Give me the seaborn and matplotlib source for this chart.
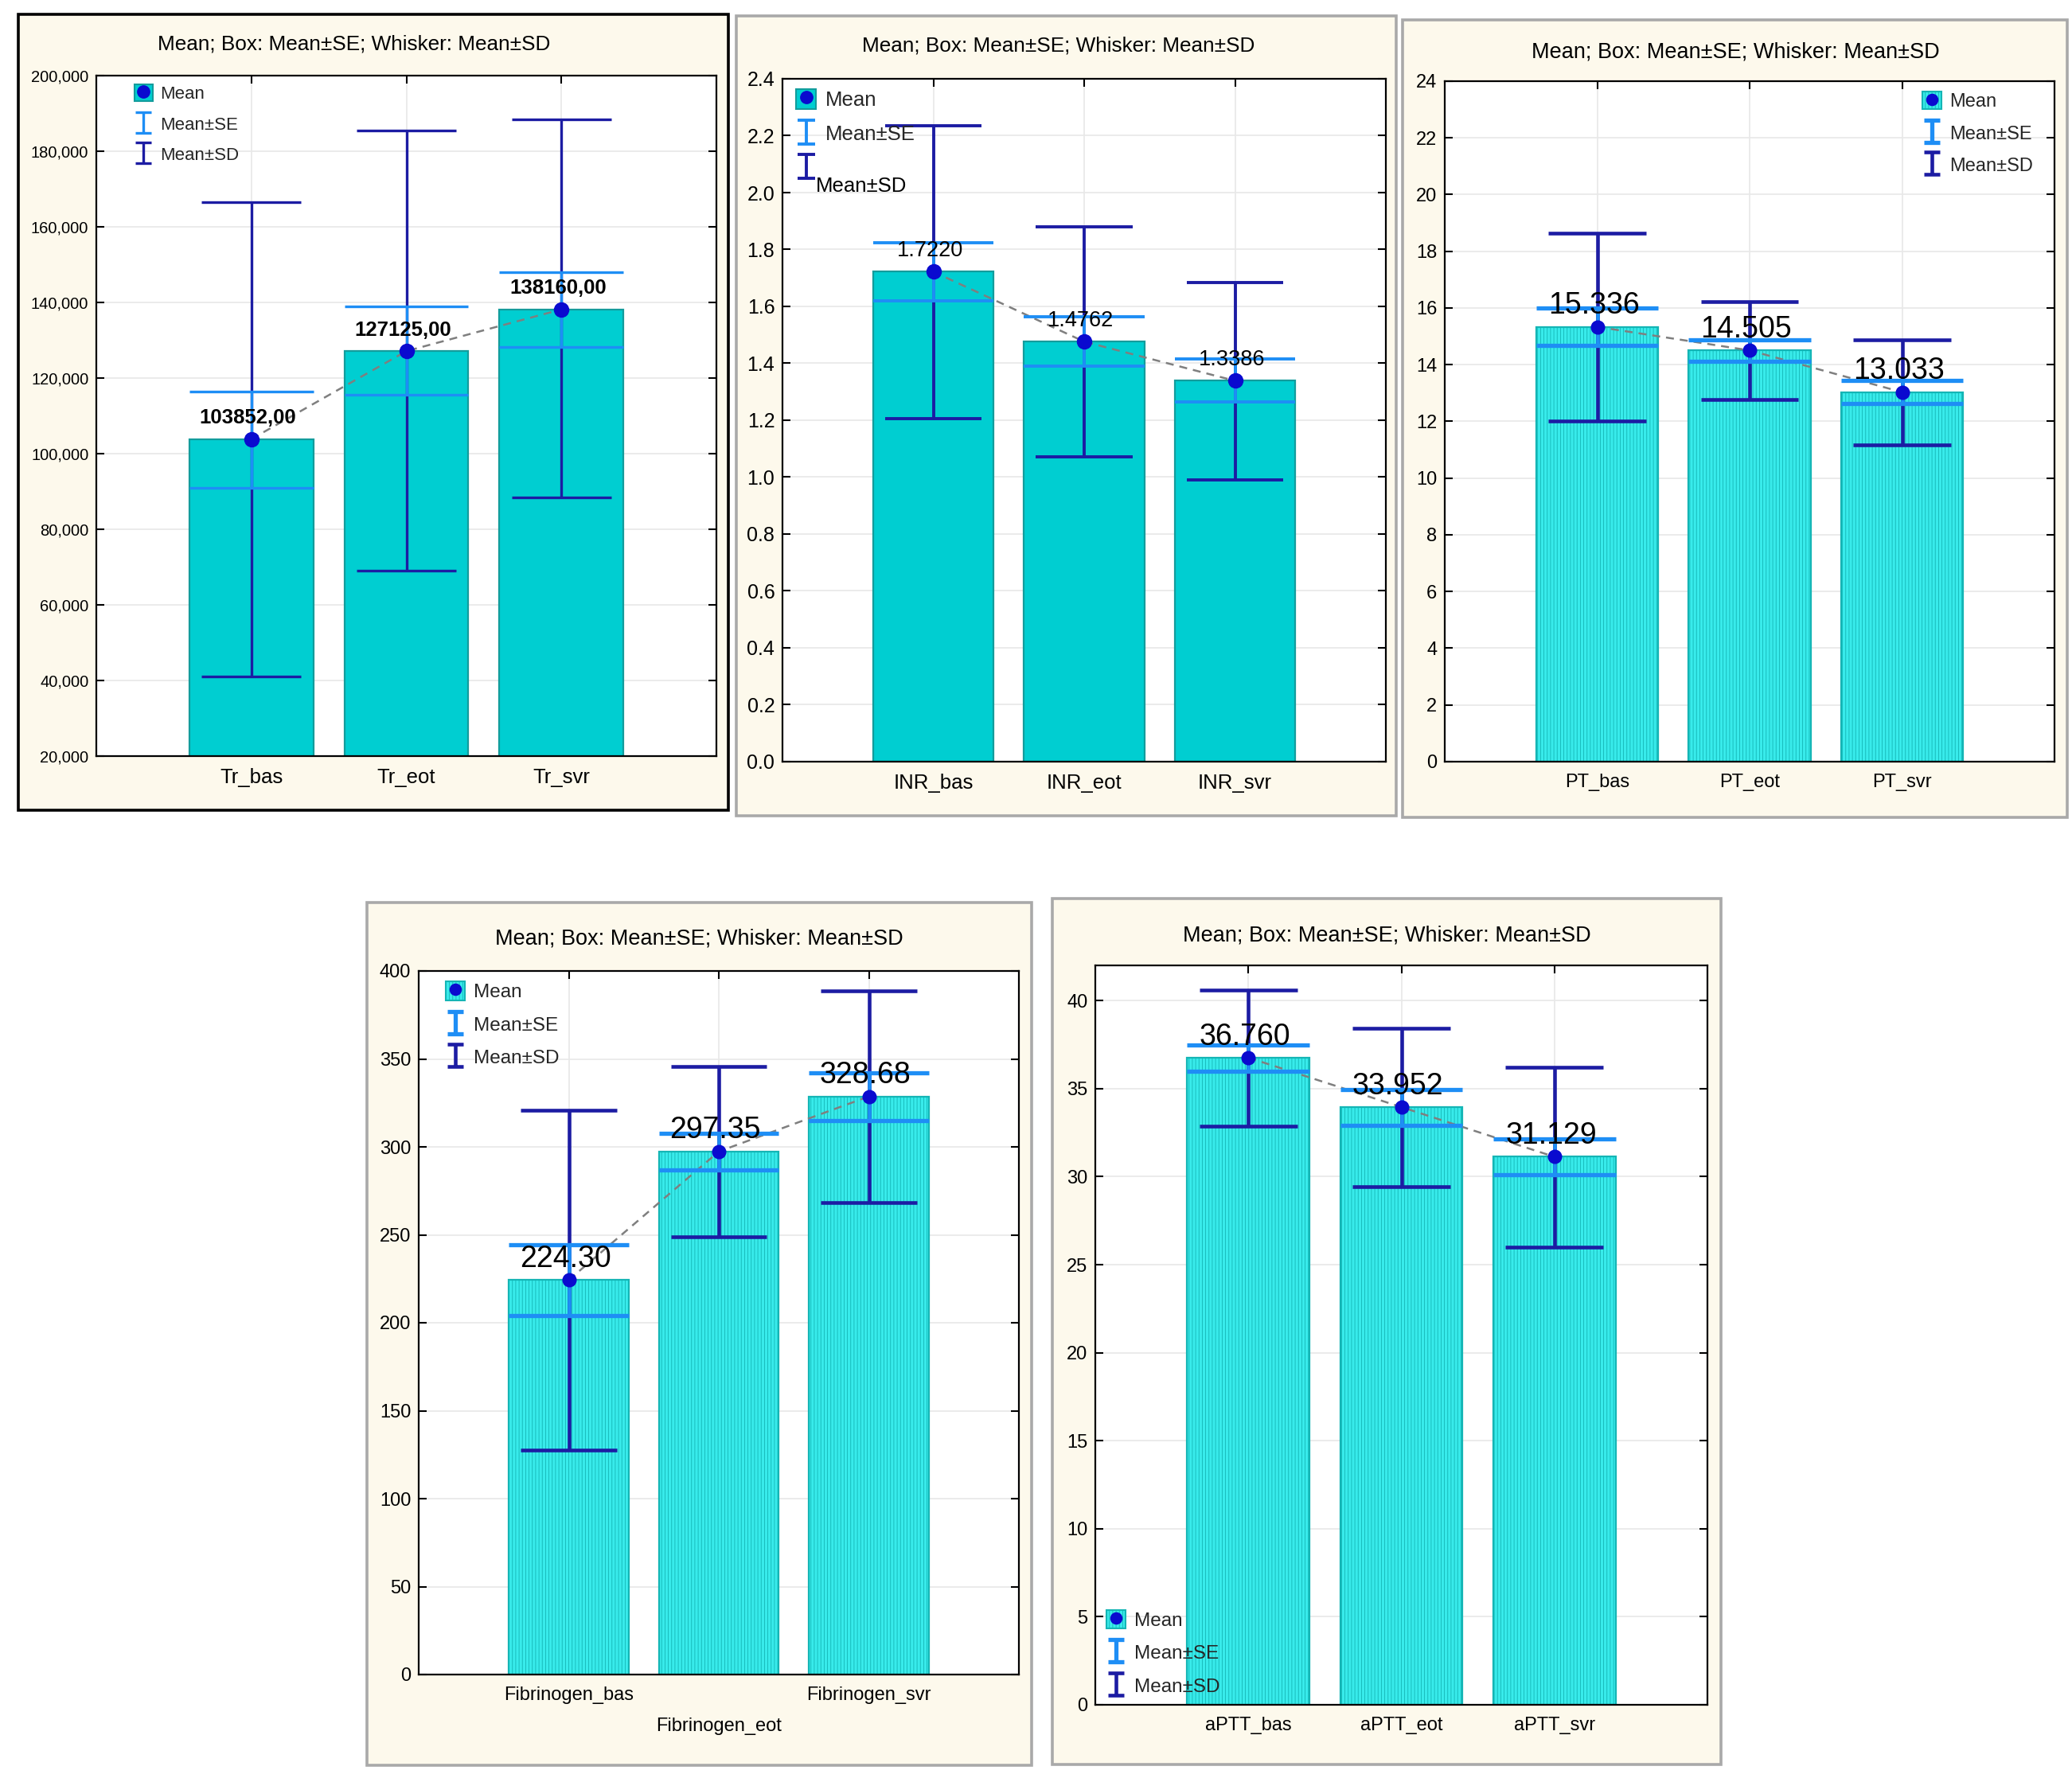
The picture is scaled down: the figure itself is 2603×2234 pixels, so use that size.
import numpy as np
import pandas as pd
import matplotlib
matplotlib.use("Agg")
import matplotlib.pyplot as plt
import seaborn as sns
from matplotlib.patches import Rectangle
from matplotlib.lines import Line2D
from matplotlib.path import Path
from matplotlib.legend_handler import HandlerTuple
from matplotlib.ticker import FuncFormatter, MultipleLocator

# ---------------- data ----------------
chart_title = "Mean; Box: Mean±SE; Whisker: Mean±SD"
legend_labels = ["Mean", "Mean±SE", "Mean±SD"]

tr_cats = ["Tr_bas", "Tr_eot", "Tr_svr"]
tr_mean = [103852.00, 127125.00, 138160.00]
tr_se_lo = [91000, 115500, 128300]
tr_se_hi = [116500, 139000, 148000]
tr_sd_lo = [41000, 69000, 88500]
tr_sd_hi = [166500, 185500, 188500]

inr_cats = ["INR_bas", "INR_eot", "INR_svr"]
inr_mean = [1.7220, 1.4762, 1.3386]
inr_se_lo = [1.620, 1.390, 1.265]
inr_se_hi = [1.825, 1.565, 1.415]
inr_sd_lo = [1.205, 1.070, 0.990]
inr_sd_hi = [2.235, 1.880, 1.685]

pt_cats = ["PT_bas", "PT_eot", "PT_svr"]
pt_mean = [15.336, 14.505, 13.033]
pt_se_lo = [14.67, 14.12, 12.62]
pt_se_hi = [16.00, 14.89, 13.45]
pt_sd_lo = [12.02, 12.78, 11.18]
pt_sd_hi = [18.65, 16.22, 14.88]

fib_cats = ["Fibrinogen_bas", "Fibrinogen_eot", "Fibrinogen_svr"]
fib_mean = [224.30, 297.35, 328.68]
fib_se_lo = [204.0, 287.0, 315.0]
fib_se_hi = [244.5, 307.5, 342.0]
fib_sd_lo = [127.5, 249.0, 268.5]
fib_sd_hi = [321.0, 345.5, 388.5]

aptt_cats = ["aPTT_bas", "aPTT_eot", "aPTT_svr"]
aptt_mean = [36.760, 33.952, 31.129]
aptt_se_lo = [36.00, 32.90, 30.10]
aptt_se_hi = [37.50, 34.95, 32.15]
aptt_sd_lo = [32.85, 29.45, 26.00]
aptt_sd_hi = [40.60, 38.45, 36.20]

# ---------------- style ----------------
sns.set_style("ticks")
plt.rcParams["font.family"] = ["Liberation Sans", "DejaVu Sans"]
plt.rcParams["hatch.linewidth"] = 0.6

W, H = 2603, 2234
fig = plt.figure(figsize=(W / 100, H / 100), dpi=100)
fig.patch.set_facecolor("white")

CREAM = "#FDF9EC"
MEAN_C = "#0A0ACF"
SE_C = "#1E8EF5"
SD_C = "#1C1CA3"


def fr(l, t, r, b):
    return [l / W, 1 - b / H, (r - l) / W, (b - t) / H]


I_PATH = Path([(-0.75, 1), (0.75, 1), (0, 1), (0, -1), (-0.75, -1), (0.75, -1)],
              [Path.MOVETO, Path.LINETO, Path.MOVETO, Path.LINETO, Path.MOVETO, Path.LINETO])

panels = [
    dict(cats=tr_cats, mean=tr_mean, se_lo=tr_se_lo, se_hi=tr_se_hi, sd_lo=tr_sd_lo, sd_hi=tr_sd_hi,
         border=(23, 18, 915, 1018), border_c="black", axes=(121, 95, 900, 950), title_xy=(445, 56),
         title_fs=18.8, ylim=(20000, 200000), ystep=20000, yfmt=lambda v: f"{v:,.0f}",
         lab=lambda v: f"{v:.2f}".replace(".", ","), lab_fs=18.5, lab_bold=True,
         face="#00CED1", edge="#139C9C", hatch=None, lw_sd=2.4, lw_se=2.4, ms=13,
         ytick_fs=14.5, xtick_fs=18.5, leg_fs=16, leg_loc=("upper left", (0.062, 0.987)),
         split_sd=False),
    dict(cats=inr_cats, mean=inr_mean, se_lo=inr_se_lo, se_hi=inr_se_hi, sd_lo=inr_sd_lo, sd_hi=inr_sd_hi,
         border=(925, 20, 1754, 1025), border_c="#A9A9A9", axes=(983, 99, 1741, 957), title_xy=(1330, 57),
         title_fs=18.8, ylim=(0, 2.4), ystep=0.2, yfmt=lambda v: f"{v:.1f}",
         lab=lambda v: f"{v:.4f}", lab_fs=19.5, lab_bold=False,
         face="#00CED1", edge="#139C9C", hatch=None, lw_sd=2.8, lw_se=2.8, ms=13,
         ytick_fs=18, xtick_fs=18.5, leg_fs=18.5, leg_loc=("upper left", (0.022, 0.985)),
         split_sd=True),
    dict(cats=pt_cats, mean=pt_mean, se_lo=pt_se_lo, se_hi=pt_se_hi, sd_lo=pt_sd_lo, sd_hi=pt_sd_hi,
         border=(1762, 25, 2597, 1027), border_c="#A9A9A9", axes=(1815, 102, 2581, 957), title_xy=(2180, 66),
         title_fs=19.5, ylim=(0, 24), ystep=2, yfmt=lambda v: f"{v:.0f}",
         lab=lambda v: f"{v:.3f}", lab_fs=27, lab_bold=False,
         face="#38EBEB", edge="#14B5B5", hatch="||||", lw_sd=3.3, lw_se=3.8, ms=12,
         ytick_fs=17, xtick_fs=17, leg_fs=17, leg_loc=("upper right", (0.965, 0.985)),
         split_sd=False),
    dict(cats=fib_cats, mean=fib_mean, se_lo=fib_se_lo, se_hi=fib_se_hi, sd_lo=fib_sd_lo, sd_hi=fib_sd_hi,
         border=(461, 1134, 1296, 2218), border_c="#A9A9A9", axes=(526, 1220, 1280, 2104), title_xy=(878, 1179),
         title_fs=19.5, ylim=(0, 400), ystep=50, yfmt=lambda v: f"{v:.0f}",
         lab=lambda v: f"{v:.2f}", lab_fs=27, lab_bold=False,
         face="#38EBEB", edge="#14B5B5", hatch="||||", lw_sd=3.3, lw_se=3.8, ms=12,
         ytick_fs=17, xtick_fs=17, leg_fs=17.5, leg_loc=("upper left", (0.045, 0.985)),
         split_sd=False),
    dict(cats=aptt_cats, mean=aptt_mean, se_lo=aptt_se_lo, se_hi=aptt_se_hi, sd_lo=aptt_sd_lo, sd_hi=aptt_sd_hi,
         border=(1322, 1129, 2162, 2217), border_c="#A9A9A9", axes=(1376, 1213, 2145, 2142), title_xy=(1742, 1175),
         title_fs=19.5, ylim=(0, 42), ystep=5, yfmt=lambda v: f"{v:.0f}",
         lab=lambda v: f"{v:.3f}", lab_fs=27, lab_bold=False,
         face="#38EBEB", edge="#14B5B5", hatch="||||", lw_sd=3.3, lw_se=3.8, ms=12,
         ytick_fs=17, xtick_fs=17, leg_fs=17.5, leg_loc=("lower left", (0.018, 0.012)),
         split_sd=False),
]

for p in panels:
    # panel background with border (drawn beneath the axes)
    l, t, r, b = p["border"]
    fig.patches.append(Rectangle((l / W, 1 - b / H), (r - l) / W, (b - t) / H,
                                 transform=fig.transFigure, facecolor=CREAM,
                                 edgecolor=p["border_c"], linewidth=2.6, zorder=-5))
    fig.text(p["title_xy"][0] / W, 1 - p["title_xy"][1] / H, chart_title,
             ha="center", va="center", fontsize=p["title_fs"], color="black")

    ax = fig.add_axes(fr(*p["axes"]))
    ax.set_zorder(1)
    ax.set_facecolor("white")
    ax.set_axisbelow(True)

    cats = p["cats"]
    mean = np.asarray(p["mean"], dtype=float)
    x = np.arange(len(cats))
    df = pd.DataFrame({"cat": cats, "mean": mean})

    bar_kw = dict(edgecolor=p["edge"], linewidth=1.6)
    if p["hatch"]:
        bar_kw["hatch"] = p["hatch"]
    sns.barplot(data=df, x="cat", y="mean", ax=ax, color=p["face"], saturation=1,
                width=0.8, errorbar=None, zorder=2, **bar_kw)

    # dashed line connecting means
    ax.plot(x, mean, linestyle=(0, (4, 3)), color="#7F7F7F", lw=1.8, zorder=3)

    # SD whiskers
    ax.vlines(x, p["sd_lo"], p["sd_hi"], color=SD_C, lw=p["lw_sd"], zorder=4)
    ax.hlines(p["sd_lo"], x - 0.32, x + 0.32, color=SD_C, lw=p["lw_sd"], zorder=4)
    ax.hlines(p["sd_hi"], x - 0.32, x + 0.32, color=SD_C, lw=p["lw_sd"], zorder=4)
    # SE boxes
    ax.vlines(x, p["se_lo"], p["se_hi"], color=SE_C, lw=p["lw_sd"], zorder=5)
    ax.hlines(p["se_lo"], x - 0.4, x + 0.4, color=SE_C, lw=p["lw_se"], zorder=5)
    ax.hlines(p["se_hi"], x - 0.4, x + 0.4, color=SE_C, lw=p["lw_se"], zorder=5)
    # means
    ax.plot(x, mean, linestyle="none", marker="o", color=MEAN_C, markersize=p["ms"], zorder=6)

    for xi, m in zip(x, mean):
        ax.annotate(p["lab"](m), (xi, m), xytext=(-3, 19), textcoords="offset points",
                    ha="center", va="center", fontsize=p["lab_fs"],
                    fontweight="bold" if p["lab_bold"] else "normal", color="black", zorder=7)

    ax.set_xlim(-1, len(cats))
    ax.set_ylim(*p["ylim"])
    ax.yaxis.set_major_locator(MultipleLocator(p["ystep"]))
    ax.yaxis.set_major_formatter(FuncFormatter(lambda v, pos, f=p["yfmt"]: f(v)))
    ax.set_xticks(x)
    ax.set_xlabel("")
    ax.set_ylabel("")
    ax.grid(True, color="#E8E8E8", lw=1.2)
    ax.tick_params(axis="both", direction="in", length=7, width=1.5, top=True, right=True, colors="black")
    ax.tick_params(axis="y", labelsize=p["ytick_fs"], pad=7)
    ax.tick_params(axis="x", labelsize=p["xtick_fs"], pad=11)
    for s in ax.spines.values():
        s.set_visible(True)
        s.set_color("black")
        s.set_linewidth(1.6)

    if cats is fib_cats:
        labels = [cats[0], "\n" + cats[1], cats[2]]
        ax.set_xticklabels(labels)
        ax.get_xticklabels()[1].set_linespacing(2.0)
    else:
        ax.set_xticklabels(cats)

    # legend
    hsz = p["leg_fs"] * 1.15
    mean_handle = (Rectangle((0, 0), 1, 1, facecolor=p["face"], edgecolor=p["edge"], lw=1.5,
                             hatch=p["hatch"]),
                   Line2D([], [], ls="none", marker="o", color=MEAN_C, markersize=p["ms"] * 0.85))
    se_handle = Line2D([], [], ls="none", marker=I_PATH, markersize=hsz, markerfacecolor="none",
                       markeredgecolor=SE_C, markeredgewidth=p["lw_se"])
    sd_handle = Line2D([], [], ls="none", marker=I_PATH, markersize=hsz, markerfacecolor="none",
                       markeredgecolor=SD_C, markeredgewidth=p["lw_sd"])
    labs = list(legend_labels)
    if p["split_sd"]:
        labs[2] = ""
    loc, anchor = p["leg_loc"]
    ax.legend([mean_handle, se_handle, sd_handle], labs, loc=loc, bbox_to_anchor=anchor,
              frameon=False, fontsize=p["leg_fs"], handlelength=1.0, handleheight=1.1,
              handletextpad=0.45, labelspacing=0.68, borderpad=0, borderaxespad=0,
              handler_map={tuple: HandlerTuple(ndivide=1)})
    if p["split_sd"]:
        ax.text(0.055, 0.843, legend_labels[2], transform=ax.transAxes, ha="left", va="center",
                fontsize=p["leg_fs"], color="black", zorder=8)

fig.savefig("out.png", dpi=100, facecolor="white")
